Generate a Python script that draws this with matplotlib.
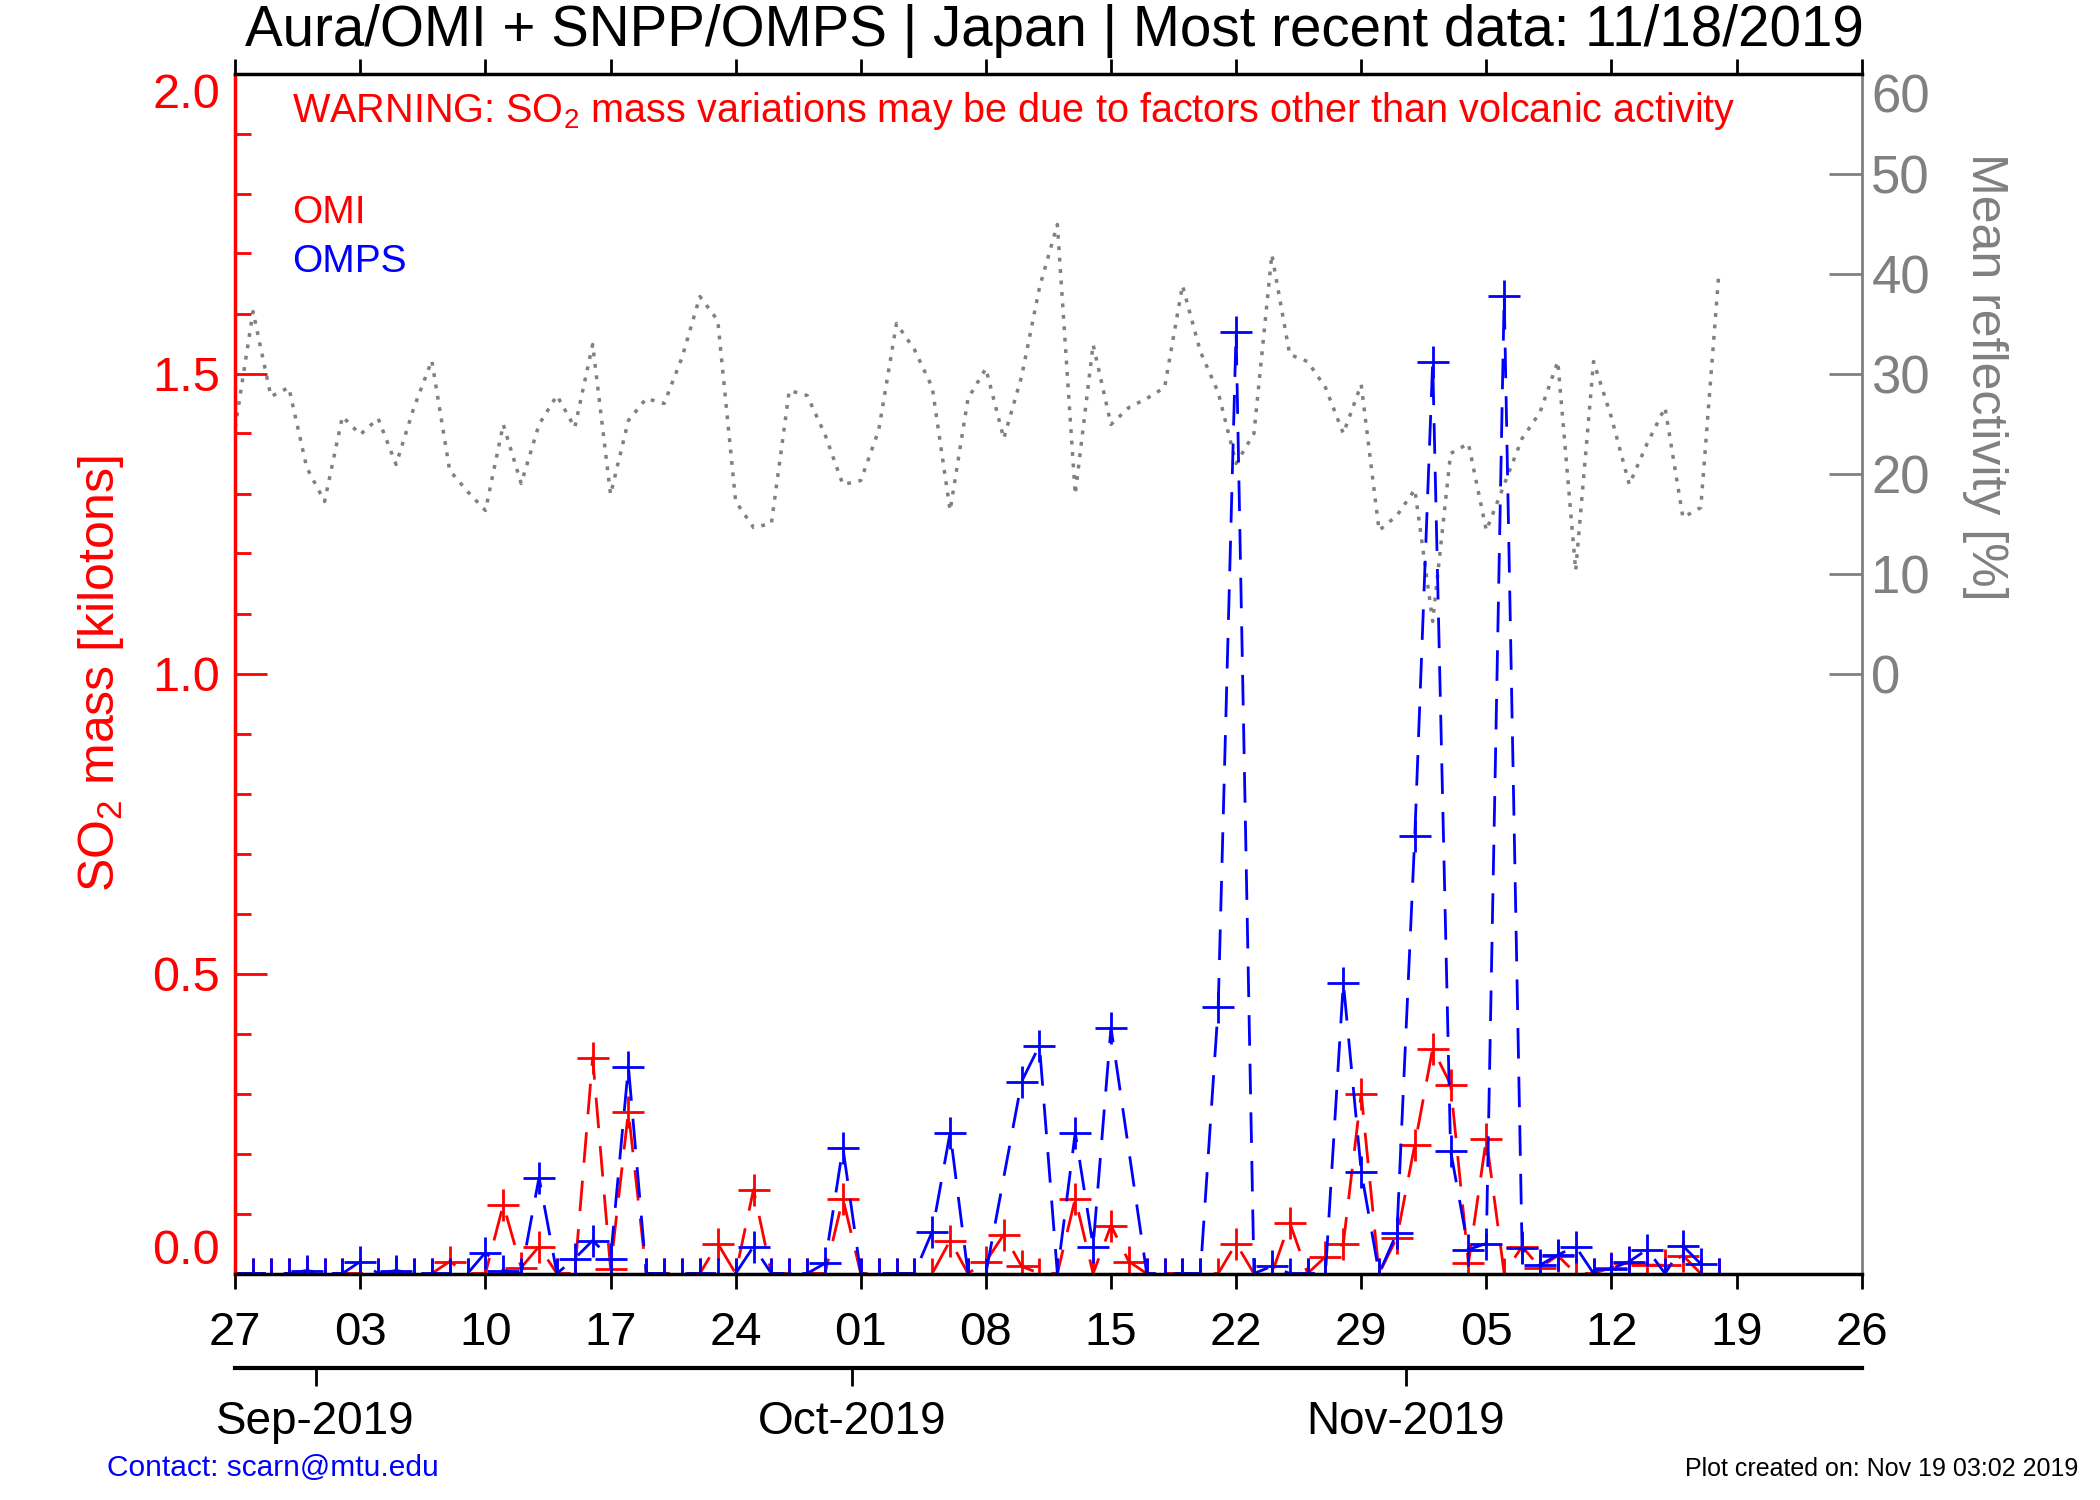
import numpy as np
import pandas as pd
import matplotlib
matplotlib.use("Agg")
import matplotlib.pyplot as plt
import matplotlib.dates as mdates

plt.rcParams["font.family"] = ["Liberation Sans", "DejaVu Sans"]
plt.rcParams["mathtext.fontset"] = "custom"
plt.rcParams["mathtext.rm"] = "Liberation Sans"
plt.rcParams["mathtext.default"] = "regular"

start = pd.Timestamp("2019-08-27")
n_days = 84

# SO2 mass [kt], one value per day from Aug 27; None = no retrieval
omi_so2 = [
    0, 0, 0, 0, 0, 0, 0, 0, 0, 0, 0, 0, 0.02, 0, 0, 0.115, 0.01, 0.045, 0, 0,
    0.36, 0.008, 0.27, 0, 0, 0, 0, 0.05, 0, 0.14, 0, 0, 0, 0, 0.125, 0, 0, 0, 0, 0,
    0.055, 0, 0.02, 0.065, 0.012, 0, 0, 0.125, 0, 0.08, 0.02, 0, 0, 0, 0, 0,
    0.05, 0, 0, 0.085, 0, 0.028, 0.05, 0.30, 0, 0.06, 0.215, 0.375, 0.315, 0.017,
    0.225, 0, 0.045, 0.01, 0.03, 0, 0, 0.01, 0.018, 0.014, 0.014, 0.03, 0, 0,
]
omps_so2 = [
    0, 0, 0, 0, 0.005, 0, 0, 0.02, 0, 0.005, 0, 0, 0, 0, 0.035, 0.005, 0, 0.16, 0, 0.025,
    0.055, 0.025, 0.345, 0, 0, 0, 0, 0, 0, 0.045, 0, 0, 0, 0.017, 0.21, 0, 0, 0, 0, 0.07,
    0.235, 0, 0, None, 0.32, 0.38, 0, 0.235, 0.045, 0.41, None, 0, 0, 0, 0, 0.445,
    1.57, 0, 0.012, 0, 0, 0, 0.485, 0.17, 0, 0.068, 0.73, 1.52, 0.205, 0.04,
    0.05, 1.63, 0.042, 0.014, 0.031, 0.045, 0, 0.008, 0.02, 0.04, 0, 0.046, 0.016, 0,
]
# mean reflectivity [%]
reflectivity = [
    24.6, 36.2, 27.7, 28.6, 20.6, 17.2, 25.7, 23.9, 25.5, 20.9, 26.6, 31.3, 20.3, 18.2,
    16.3, 24.9, 19.0, 24.9, 27.8, 24.6, 32.9, 17.9, 25.3, 27.5, 27.0, 31.6, 37.7, 35.3,
    17.2, 14.6, 15.0, 28.3, 27.8, 23.9, 18.9, 19.3, 24.3, 35.0, 32.4, 28.6, 16.3, 27.5,
    30.5, 23.5, 29.7, 38.6, 44.9, 17.9, 32.9, 24.9, 26.6, 27.5, 28.6, 38.8, 32.2, 28.1,
    21.0, 24.0, 41.9, 31.9, 31.2, 28.6, 24.0, 28.9, 14.3, 15.8, 18.4, 5.2, 22.0, 23.0,
    14.3, 18.9, 23.5, 26.1, 31.2, 10.3, 31.2, 25.6, 18.9, 23.0, 26.6, 15.6, 16.6, 39.8,
]

title = "Aura/OMI + SNPP/OMPS | Japan | Most recent data: 11/18/2019"
week_ticks = pd.date_range("2019-08-27", "2019-11-26", freq="7D")
month_labels = ["Sep-2019", "Oct-2019", "Nov-2019"]
# month marks sit half a day before the 1st in the original plot
month_ticks = pd.to_datetime(["2019-09-01", "2019-10-01", "2019-11-01"]) - pd.Timedelta(hours=12)

days = pd.date_range(start, periods=n_days, freq="D")


def series(vals):
    pts = [(d, v) for d, v in zip(days, vals) if v is not None]
    return [p[0] for p in pts], [p[1] for p in pts]


fig = plt.figure(figsize=(21, 15), dpi=100)
ax = fig.add_axes([0.112, 0.151, 0.7745, 0.80])
ax2 = ax.twinx()
ax.set_zorder(ax2.get_zorder() + 1)
ax.patch.set_visible(False)

# reflectivity on the right axis
ax2.plot(days, reflectivity, color="#808080", lw=2.5, dashes=(1.1, 2.2))
ax2.set_ylim(-60, 60)
ax2.set_yticks(np.arange(0, 61, 10))
ax2.tick_params(axis="y", direction="in", length=24, width=2, colors="#808080",
                labelsize=38, pad=7)
ax2.yaxis.get_major_ticks()[-1].label2.set_va("top")
for s in ["left", "top", "bottom"]:
    ax2.spines[s].set_visible(False)
ax2.spines["right"].set_color("#808080")
ax2.spines["right"].set_linewidth(2)

x, y = series(omi_so2)
ax.plot(x, y, color="red", lw=2.0, dashes=(11, 6.5), marker="+", ms=23, mew=2.0)
x, y = series(omps_so2)
ax.plot(x, y, color="blue", lw=2.0, dashes=(11, 6.5), marker="+", ms=23, mew=2.0)

ax.set_xlim(week_ticks[0], week_ticks[-1])
ax.set_ylim(0, 2.0)
ax.set_yticks(np.arange(0, 2.01, 0.5))
ax.set_yticks(np.arange(0, 2.01, 0.1), minor=True)
ax.yaxis.set_major_formatter(matplotlib.ticker.FormatStrFormatter("%.1f"))
ax.tick_params(axis="y", which="major", direction="in", length=23, width=2,
               colors="red", labelsize=35, pad=11)
ax.tick_params(axis="y", which="minor", direction="in", length=11.5, width=2,
               colors="red")
yt = ax.yaxis.get_major_ticks()
yt[0].label1.set_va("bottom")
yt[-1].label1.set_va("top")

ax.set_xticks(week_ticks)
ax.xaxis.set_major_formatter(mdates.DateFormatter("%d"))
ax.tick_params(axis="x", direction="out", length=11, width=2, top=True,
               labelsize=34, pad=16)
ax.spines["left"].set_color("red")
ax.spines["right"].set_visible(False)
for s in ["left", "top", "bottom"]:
    ax.spines[s].set_linewidth(2.5)

# month axis under the day labels
sec = ax.secondary_xaxis(-0.079)
sec.set_xticks(month_ticks, month_labels)
sec.tick_params(axis="x", direction="out", length=13, width=2, labelsize=33, pad=10)
sec.spines["bottom"].set_linewidth(3)

ax.text(0.035, 0.969, "WARNING: SO$_2$ mass variations may be due to factors other than volcanic activity",
        transform=ax.transAxes, color="red", fontsize=28.5, va="center", ha="left")
ax.text(0.035, 0.884, "OMI", transform=ax.transAxes, color="red", fontsize=28,
        va="center", ha="left")
ax.text(0.035, 0.843, "OMPS", transform=ax.transAxes, color="blue", fontsize=28,
        va="center", ha="left")

fig.text(0.502, 0.979, title, fontsize=40.7, ha="center", va="center")
fig.text(0.048, 0.551, "SO$_2$ mass [kilotons]", color="red", fontsize=36,
         rotation=90, ha="center", va="center")
fig.text(0.945, 0.749, "Mean reflectivity [%]", color="#808080", fontsize=36,
         rotation=270, ha="center", va="center")
fig.text(0.051, 0.021, "Contact: scarn@mtu.edu", color="blue", fontsize=21.5,
         ha="left", va="center")
fig.text(0.9895, 0.021, "Plot created on: Nov 19 03:02 2019", color="black",
         fontsize=18, ha="right", va="center")

fig.savefig("out.png", dpi=100)
